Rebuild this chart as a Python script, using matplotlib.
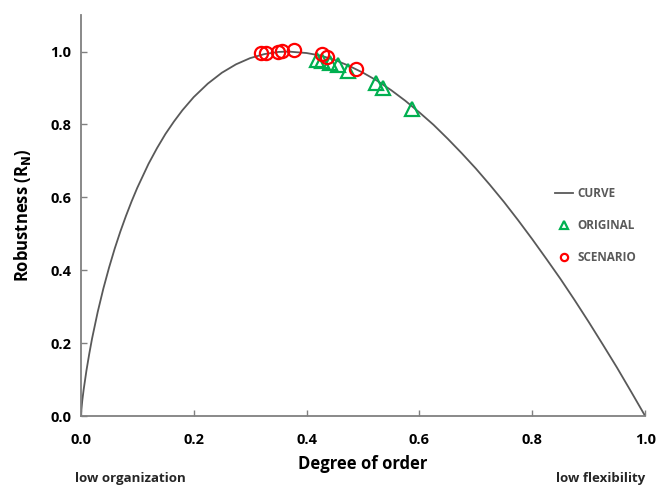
import matplotlib
matplotlib.use("Agg")
import matplotlib.pyplot as plt

# curve
curve_x = [0.0, 0.0025, 0.005, 0.01, 0.015, 0.02, 0.03, 0.04, 0.05, 0.06,
           0.07, 0.08, 0.09, 0.10, 0.12, 0.135, 0.15, 0.165, 0.18, 0.20,
           0.225, 0.25, 0.275, 0.30, 0.325, 0.35, 0.368, 0.40, 0.425, 0.45,
           0.475, 0.50, 0.525, 0.55, 0.575, 0.60, 0.625, 0.65, 0.675, 0.70,
           0.725, 0.75, 0.775, 0.80, 0.825, 0.85, 0.875, 0.90, 0.925, 0.95,
           0.975, 1.0]
curve_y = [0.0, 0.041, 0.072, 0.125, 0.171, 0.213, 0.286, 0.350, 0.407, 0.459,
           0.506, 0.549, 0.589, 0.626, 0.692, 0.735, 0.774, 0.808, 0.839,
           0.875, 0.912, 0.942, 0.965, 0.982, 0.993, 0.999, 1.0, 0.996, 0.989,
           0.977, 0.961, 0.942, 0.920, 0.894, 0.865, 0.833, 0.799, 0.761,
           0.721, 0.679, 0.634, 0.587, 0.537, 0.485, 0.431, 0.376, 0.318,
           0.258, 0.196, 0.133, 0.067, 0.0]

original_x = [0.419, 0.427, 0.441, 0.456, 0.474, 0.523, 0.535, 0.586]
original_y = [0.977, 0.975, 0.968, 0.962, 0.948, 0.914, 0.899, 0.843]

scenario_x = [0.319, 0.328, 0.349, 0.356, 0.378, 0.427, 0.437, 0.488]
scenario_y = [0.995, 0.995, 1.000, 1.001, 1.003, 0.992, 0.986, 0.953]

x_ticks = [0.0, 0.2, 0.4, 0.6, 0.8, 1.0]
y_ticks = [0.0, 0.2, 0.4, 0.6, 0.8, 1.0]

plt.rcParams['font.family'] = ['Open Sans', 'DejaVu Sans']

fig = plt.figure(figsize=(6.57, 4.88), dpi=100)
ax = fig.add_axes([0.123, 0.1475, 0.859, 0.8215])

ax.plot(curve_x, curve_y, color='#595959', lw=1.3, label='CURVE', zorder=2)
ax.plot(original_x, original_y, ls='none', marker='^', ms=9.5, mfc='none',
        mec='#00B050', mew=1.6, label='ORIGINAL', zorder=3)
ax.plot(scenario_x, scenario_y, ls='none', marker='o', ms=9.5, mfc='none',
        mec='#FF0000', mew=1.6, label='SCENARIO', zorder=4)

ax.set_xlim(0, 1.0)
ax.set_ylim(0, 1.1)
ax.set_xticks(x_ticks)
ax.set_yticks(y_ticks)
ax.set_xticklabels(['%.1f' % v for v in x_ticks], fontsize=10.5, fontweight='bold')
ax.set_yticklabels(['%.1f' % v for v in y_ticks], fontsize=10.5, fontweight='bold')
ax.tick_params(direction='in', length=4, color='#808080', width=1, pad=7)
ax.tick_params(axis='x', pad=12)

for side in ['top', 'right']:
    ax.spines[side].set_visible(False)
for side in ['left', 'bottom']:
    ax.spines[side].set_color('#808080')
    ax.spines[side].set_linewidth(1.3)

ax.set_xlabel('Degree of order', fontsize=12, fontweight='bold', labelpad=6)
ax.set_ylabel('Robustness (R$_{\\mathbf{N}}$)', fontsize=12, fontweight='bold',
              labelpad=12)

fig.text(0.114, 0.012, 'low organization', fontsize=9.5, fontweight='bold',
         color='#262626')
fig.text(0.982, 0.012, 'low flexibility', fontsize=9.5, fontweight='bold',
         color='#262626', ha='right')

leg = ax.legend(loc='upper left', bbox_to_anchor=(0.822, 0.598), frameon=False,
                fontsize=8.5, labelspacing=1.6, markerscale=0.55,
                handlelength=1.5, handletextpad=0.35)
for t in leg.get_texts():
    t.set_color('#595959')
    t.set_fontweight('bold')

fig.savefig('out.png', dpi=100)
